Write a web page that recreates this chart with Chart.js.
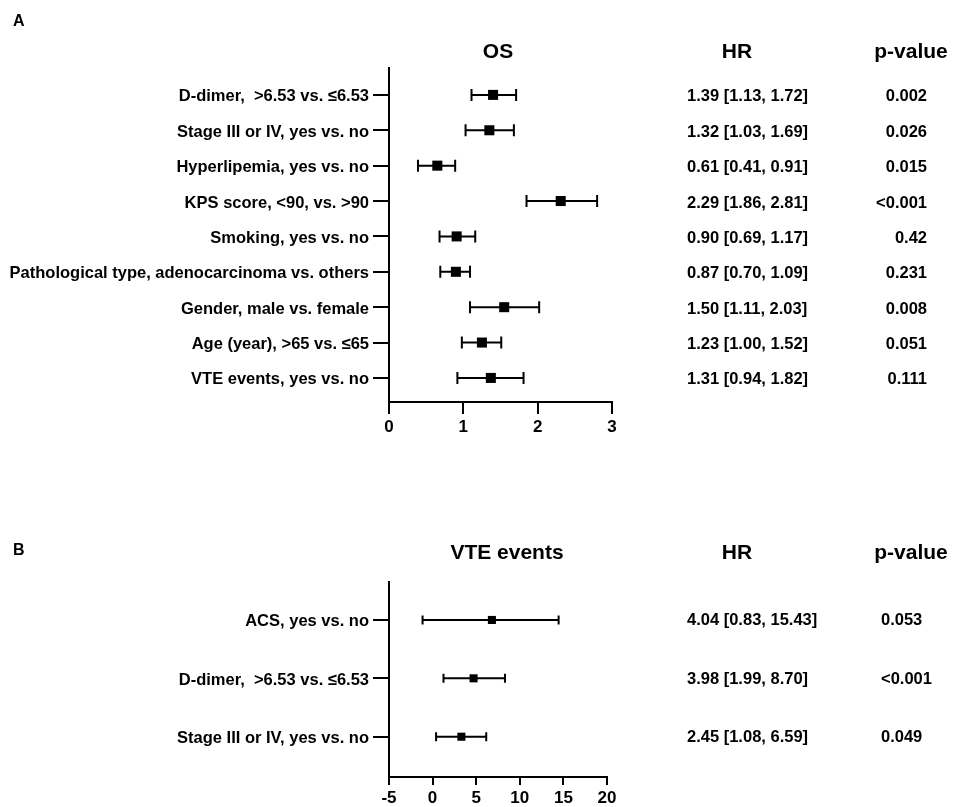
<!DOCTYPE html>
<html lang="en">
<head>
  <meta charset="UTF-8">
  <title>Forest plots: OS and VTE events</title>
  <script src="https://cdn.jsdelivr.net/npm/chart.js"></script>
  <style>
    html, body {
      margin: 0;
      padding: 0;
      background: #fff;
    }
    body {
      position: relative;
      width: 957px;
      height: 807px;
      overflow: hidden;
    }
    canvas {
      position: absolute;
      left: 0;
    }
    #panelA { top: 0; }
    #panelB { top: 520px; }
  </style>
</head>
<body>
  <canvas id="panelA" width="957" height="450"></canvas>
  <canvas id="panelB" width="957" height="287"></canvas>

  <script>
    // Panel A: overall survival
    const labelsA = [
      'D-dimer,  >6.53 vs. \u22646.53',
      'Stage III or IV, yes vs. no',
      'Hyperlipemia, yes vs. no',
      'KPS score, <90, vs. >90',
      'Smoking, yes vs. no',
      'Pathological type, adenocarcinoma vs. others',
      'Gender, male vs. female',
      'Age (year), >65 vs. \u226465',
      'VTE events, yes vs. no'
    ];
    const rowsA = [1, 2, 3, 4, 5, 6, 7, 8, 9];
    const hrA   = [1.40, 1.35, 0.65, 2.31, 0.91, 0.90, 1.55, 1.25, 1.37];
    const lowA  = [1.11, 1.03, 0.39, 1.85, 0.68, 0.69, 1.09, 0.98, 0.92];
    const highA = [1.71, 1.68, 0.89, 2.80, 1.16, 1.09, 2.02, 1.51, 1.81];
    const hrTextA = [
      '1.39 [1.13, 1.72]', '1.32 [1.03, 1.69]', '0.61 [0.41, 0.91]',
      '2.29 [1.86, 2.81]', '0.90 [0.69, 1.17]', '0.87 [0.70, 1.09]',
      '1.50 [1.11, 2.03]', '1.23 [1.00, 1.52]', '1.31 [0.94, 1.82]'
    ];
    const pTextA = ['0.002', '0.026', '0.015', '<0.001', '0.42', '0.231', '0.008', '0.051', '0.111'];
    const xTicksA = [0, 1, 2, 3];

    // Panel B: VTE events
    const labelsB = [
      'ACS, yes vs. no',
      'D-dimer,  >6.53 vs. \u22646.53',
      'Stage III or IV, yes vs. no'
    ];
    const rowsB = [1, 2, 3];
    const hrB   = [6.8, 4.7, 3.3];
    const lowB  = [-1.15, 1.25, 0.4];
    const highB = [14.45, 8.3, 6.15];
    const hrTextB = ['4.04 [0.83, 15.43]', '3.98 [1.99, 8.70]', '2.45 [1.08, 6.59]'];
    const pTextB = ['0.053', '<0.001', '0.049'];
    const xTicksB = [-5, 0, 5, 10, 15, 20];

    const FONT = 'Liberation Sans, Arial, Helvetica, sans-serif';

    // whiskers with end caps, drawn under the squares
    const errorBars = {
      id: 'errorBars',
      beforeDatasetsDraw(chart, args, opts) {
        const ctx = chart.ctx;
        const xs = chart.scales.x, ys = chart.scales.y;
        ctx.save();
        ctx.strokeStyle = '#000';
        ctx.lineWidth = 2;
        opts.rows.forEach((r, i) => {
          const y = ys.getPixelForValue(r);
          const x1 = xs.getPixelForValue(opts.low[i]);
          const x2 = xs.getPixelForValue(opts.high[i]);
          ctx.beginPath();
          ctx.moveTo(x1, y);
          ctx.lineTo(x2, y);
          ctx.moveTo(x1, y - opts.cap / 2);
          ctx.lineTo(x1, y + opts.cap / 2);
          ctx.moveTo(x2, y - opts.cap / 2);
          ctx.lineTo(x2, y + opts.cap / 2);
          ctx.stroke();
        });
        ctx.restore();
      }
    };

    // panel letter, headers and the HR / p-value columns
    const textColumns = {
      id: 'textColumns',
      afterDraw(chart, args, opts) {
        const ctx = chart.ctx;
        const ys = chart.scales.y;
        ctx.save();
        ctx.fillStyle = '#000';
        ctx.textBaseline = 'middle';

        ctx.font = 'bold 16px ' + FONT;
        ctx.textAlign = 'left';
        ctx.fillText(opts.letter, 13, opts.letterY);

        ctx.font = 'bold 21px ' + FONT;
        ctx.textAlign = 'center';
        ctx.fillText(opts.title, opts.titleX, opts.headY);
        ctx.fillText('HR', 737, opts.headY);
        ctx.fillText('p-value', 911, opts.headY);

        ctx.font = 'bold 16.5px ' + FONT;
        opts.rows.forEach((r, i) => {
          const y = ys.getPixelForValue(r) + opts.textShift;
          ctx.textAlign = 'left';
          ctx.fillText(opts.hr[i], 687, y);
          ctx.textAlign = opts.pAlign;
          ctx.fillText(opts.p[i], opts.pX, y);
        });
        ctx.restore();
      }
    };

    function forestChart(canvasId, cfg) {
      const tickFont = { family: FONT, size: 16.5, weight: 'bold' };
      return new Chart(document.getElementById(canvasId), {
        type: 'scatter',
        data: {
          datasets: [{
            data: cfg.rows.map((r, i) => ({ x: cfg.hr[i], y: r })),
            pointStyle: 'rect',
            pointRadius: cfg.pointRadius,
            pointBorderWidth: 0,
            backgroundColor: '#000',
            borderColor: '#000'
          }]
        },
        options: {
          responsive: false,
          animation: false,
          devicePixelRatio: 1,
          layout: { padding: { top: cfg.top, right: cfg.right, left: 0, bottom: 0 } },
          scales: {
            x: {
              type: 'linear',
              min: cfg.xTicks[0],
              max: cfg.xTicks[cfg.xTicks.length - 1],
              afterBuildTicks: s => { s.ticks = cfg.xTicks.map(v => ({ value: v })); },
              afterFit: s => { s.height = cfg.xHeight; },
              ticks: {
                color: '#000', padding: cfg.xPad, autoSkip: false, maxRotation: 0,
                font: { family: FONT, size: 17, weight: 'bold' }
              },
              grid: {
                display: true, drawOnChartArea: false, drawTicks: true,
                tickLength: cfg.xTickLen, color: '#000', lineWidth: 2
              },
              border: { display: true, color: '#000', width: 2 }
            },
            y: {
              type: 'linear',
              reverse: true,
              min: cfg.yMin,
              max: cfg.yMax,
              afterBuildTicks: s => { s.ticks = cfg.rows.map(v => ({ value: v })); },
              afterFit: s => { s.width = 389; },
              ticks: {
                color: '#000', font: tickFont, padding: 4, autoSkip: false, labelOffset: 2,
                callback: v => cfg.labels[v - 1]
              },
              grid: {
                display: true, drawOnChartArea: false, drawTicks: true,
                tickLength: 16, color: '#000', lineWidth: 2
              },
              border: { display: true, color: '#000', width: 2 }
            }
          },
          plugins: {
            legend: { display: false },
            tooltip: { enabled: false },
            errorBars: { rows: cfg.rows, low: cfg.low, high: cfg.high, cap: cfg.cap },
            textColumns: {
              rows: cfg.rows, hr: cfg.hrText, p: cfg.pText,
              pAlign: cfg.pAlign, pX: cfg.pX, textShift: cfg.textShift,
              letter: cfg.letter, letterY: cfg.letterY,
              title: cfg.title, titleX: cfg.titleX, headY: cfg.headY
            }
          }
        },
        plugins: [errorBars, textColumns]
      });
    }

    forestChart('panelA', {
      labels: labelsA, rows: rowsA, hr: hrA, low: lowA, high: highA,
      hrText: hrTextA, pText: pTextA, xTicks: xTicksA,
      yMin: 0.24, yMax: 9.68, top: 68, right: 345, xHeight: 48, xTickLen: 12, xPad: 3,
      pointRadius: 7.1, cap: 12, textShift: 2,
      pAlign: 'right', pX: 927,
      letter: 'A', letterY: 22, title: 'OS', titleX: 498, headY: 52
    });

    forestChart('panelB', {
      labels: labelsB, rows: rowsB, hr: hrB, low: lowB, high: highB,
      hrText: hrTextB, pText: pTextB, xTicks: xTicksB,
      yMin: 0.35, yMax: 3.69, top: 62, right: 350, xHeight: 30, xTickLen: 8, xPad: 3,
      pointRadius: 5.7, cap: 9, textShift: 1,
      pAlign: 'left', pX: 881,
      letter: 'B', letterY: 31, title: 'VTE events', titleX: 507, headY: 33
    });
  </script>
</body>
</html>
